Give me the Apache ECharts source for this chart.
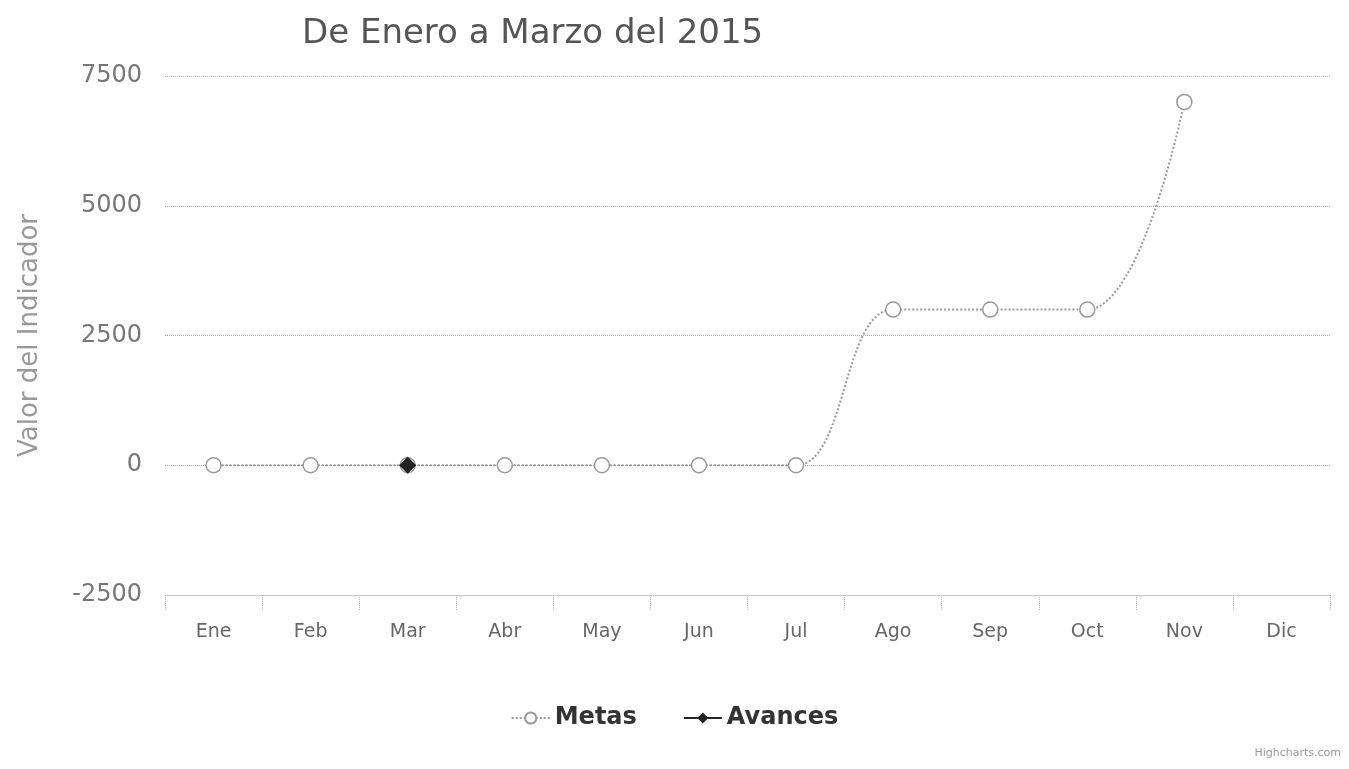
<!DOCTYPE html>
<html>
<head>
<meta charset="utf-8">
<title>De Enero a Marzo del 2015</title>
<script src="https://cdn.jsdelivr.net/npm/echarts@6/dist/echarts.min.js"></script>
<style>
    html, body { margin: 0; padding: 0; background: #fff; }
    #chart { width: 1349px; height: 769px; }
</style>
</head>
<body>
<div id="chart"></div>
<script>
/* ── Data ─────────────────────────────────────────────────────────── */
const months = ['Ene', 'Feb', 'Mar', 'Abr', 'May', 'Jun', 'Jul', 'Ago', 'Sep', 'Oct', 'Nov', 'Dic'];
const metas = [0, 0, 0, 0, 0, 0, 0, 3000, 3000, 3000, 7000, null];
const avances = [null, null, 0, null, null, null, null, null, null, null, null, null];

const FONT = 'DejaVu Sans';

/* ── Chart ────────────────────────────────────────────────────────── */
const chart = echarts.init(document.getElementById('chart'), null, { renderer: 'canvas' });

chart.setOption({
    animation: false,
    backgroundColor: '#fff',
    title: {
        text: 'De Enero a Marzo del 2015',
        left: 297,
        top: 12,
        textStyle: { fontFamily: FONT, fontSize: 34, fontWeight: 'normal', color: '#555' }
    },
    legend: {
        top: 701,
        left: 'center',
        itemWidth: 38,
        itemHeight: 14,
        itemGap: 46,
        textStyle: { fontFamily: FONT, fontSize: 24, fontWeight: 'bold', color: '#333' },
        data: ['Metas', 'Avances']
    },
    grid: { left: 165, right: 19, top: 76, bottom: 174 },
    xAxis: {
        type: 'category',
        data: months,
        boundaryGap: true,
        axisLine: { onZero: false, lineStyle: { color: '#bbb', type: 'dotted' } },
        axisTick: { show: true, length: 16, lineStyle: { color: '#bbb', type: 'dotted' } },
        axisLabel: { fontFamily: FONT, fontSize: 19, color: '#666', margin: 28 }
    },
    yAxis: {
        type: 'value',
        min: -2500,
        max: 7500,
        interval: 2500,
        name: 'Valor del Indicador',
        nameLocation: 'middle',
        nameGap: 122,
        nameTextStyle: { fontFamily: FONT, fontSize: 26, color: '#999' },
        axisLine: { show: false },
        axisTick: { show: false },
        axisLabel: { fontFamily: FONT, fontSize: 24, color: '#777', margin: 23, formatter: v => String(v) },
        splitLine: { lineStyle: { color: '#aaa', type: 'dotted', width: 1 } }
    },
    series: [
        {
            name: 'Metas',
            type: 'line',
            data: metas,
            smooth: 0.4,
            symbol: 'circle',
            symbolSize: 15,
            color: '#999',
            lineStyle: { color: '#999', width: 2, type: 'dotted' },
            itemStyle: { color: '#fff', borderColor: '#999', borderWidth: 1.5 }
        },
        {
            name: 'Avances',
            type: 'line',
            data: avances,
            symbol: 'diamond',
            symbolSize: 17,
            color: '#222',
            lineStyle: { color: '#222', width: 2 },
            itemStyle: { color: '#222' }
        }
    ],
    graphic: [{
        type: 'text',
        right: 8,
        bottom: 10,
        style: { text: 'Highcharts.com', fontFamily: FONT, fontSize: 11, fill: '#999' }
    }]
});

window.addEventListener('resize', () => chart.resize());
</script>
</body>
</html>
